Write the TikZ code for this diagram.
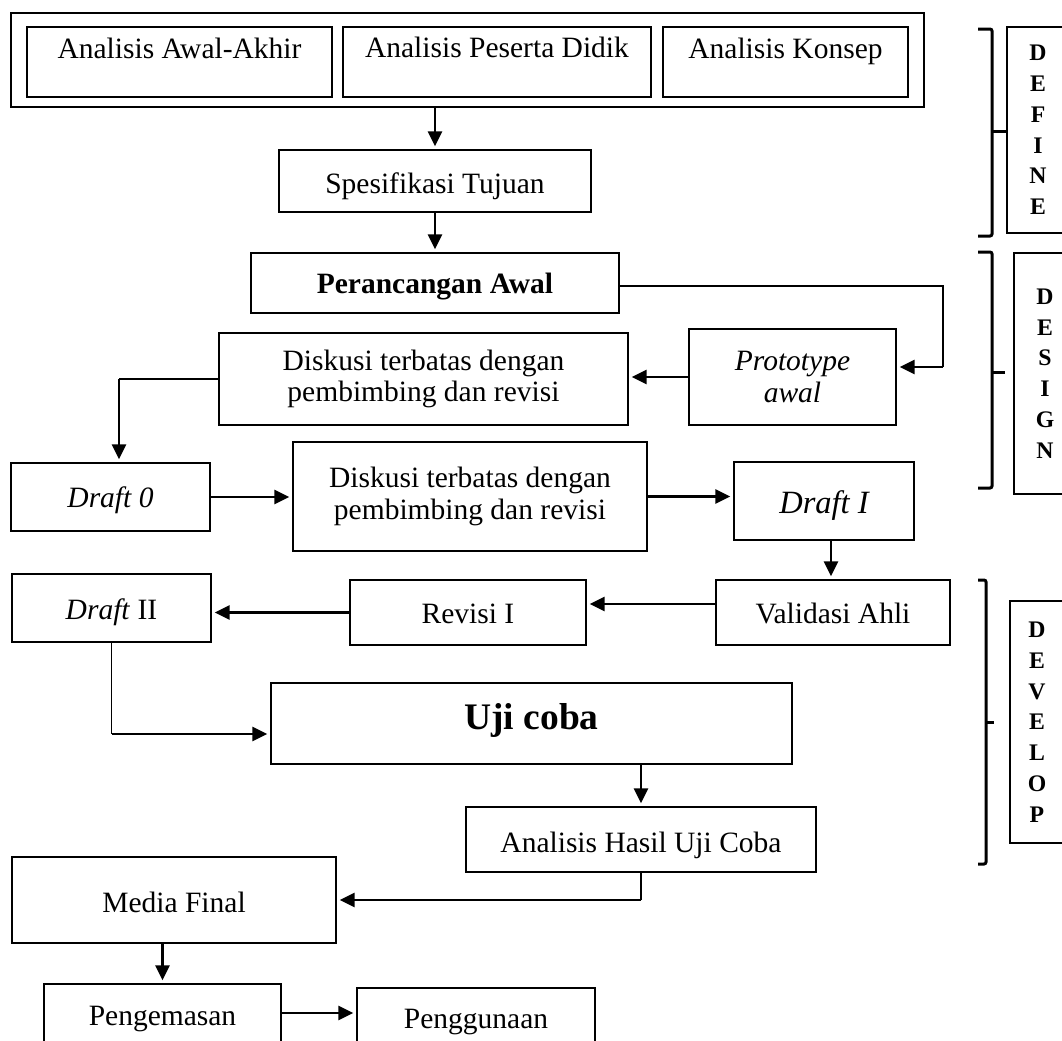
\documentclass[tikz,border=0pt]{standalone}
\usepackage{fontspec}
\setmainfont{Liberation Serif}
\usetikzlibrary{arrows.meta}

\newcommand\flowfont{\fontsize{11.8}{12.6}\selectfont}

\tikzset{
  box/.style={draw, line width=0.9pt, inner sep=0pt, align=center, font=\flowfont},
  phase/.style={draw, line width=0.85pt, inner sep=0pt, align=center,
    font=\fontsize{9.5}{12.3}\selectfont\bfseries},
  arr/.style={line width=1.1pt, -{Triangle[length=6pt,width=5.6pt]}, shorten >=1pt},
  link/.style={line width=0.5pt},
  brk/.style={line width=1.2pt, rounded corners=0.8pt},
}

% box given by its corners (x1,y1)-(x2,y2), text centred
\newcommand\flowbox[7][]{%
  \node[box,#1,minimum width={(#5-#3)*0.4pt},minimum height={(#6-#4)*0.4pt}]
    (#2) at ({(#3+#5)/2},{(#4+#6)/2}) {#7};}

% box given by its corners, with the text baseline at height #7
\newcommand\basebox[8][]{%
  \pgfmathsetmacro\fbshift{((#4+#6)/2-#7)*0.8}%
  \pgfmathsetmacro\fbtd{max(0,\fbshift)}%
  \pgfmathsetmacro\fbth{max(0,-\fbshift)}%
  \node[box,#1,text height=\fbth pt,text depth=\fbtd pt,
    minimum width={(#5-#3)*0.4pt},minimum height={(#6-#4)*0.4pt}]
    (#2) at ({(#3+#5)/2},{(#4+#6)/2}) {#8};}

\begin{document}
\begin{tikzpicture}[x=0.4pt,y=-0.4pt]
\useasboundingbox (0,0) rectangle (1062,1041);
\clip (0,0) rectangle (1062,1041);

% ---- define: front-end analyses ----
\flowbox{outer}{11}{13}{924}{107}{}
\basebox{aa}{27}{27}{332}{97}{58}{Analisis Awal-Akhir}
\basebox{ap}{343}{27}{651}{97}{57}{Analisis Peserta Didik}
\basebox{ak}{663}{27}{908}{97}{58}{Analisis Konsep}
\basebox{spec}{279}{150}{591}{212}{193}{Spesifikasi Tujuan}

% ---- design ----
\basebox[font=\flowfont\bfseries]{pa}{251}{253}{619}{313}{293}{Perancangan Awal}
\flowbox[font=\flowfont\itshape]{proto}{689}{329}{896}{425}{Prototype\\awal}
\flowbox{d1}{219}{333}{628}{425}{Diskusi terbatas dengan\\pembimbing dan revisi}
\basebox[font=\flowfont\itshape]{d0}{11}{463}{210}{531}{507}{Draft 0}
\flowbox{d2}{293}{442}{647}{551}{Diskusi terbatas dengan\\pembimbing dan revisi}
\basebox[font=\fontsize{13}{15}\selectfont\itshape]{di}{734}{462}{914}{540}{513}{Draft I}

% ---- develop ----
\basebox{va}{716}{580}{950}{645}{623}{Validasi Ahli}
\basebox{re}{350}{580}{586}{645}{623}{Revisi I}
\basebox{dii}{12}{574}{211}{642}{619}{\textit{Draft} II}
\basebox[font=\fontsize{15}{18}\selectfont\bfseries]{uji}{271}{683}{792}{764}{729}{Uji coba}
\basebox{ah}{466}{807}{816}{872}{852}{Analisis Hasil Uji Coba}
\basebox{mf}{12}{857}{336}{943}{912}{Media Final}
\basebox{pg}{44}{984}{281}{1042}{1025}{Pengemasan}
\basebox{pu}{357}{988}{595}{1050}{1028}{Penggunaan}

% ---- phase labels ----
\flowbox[phase]{pdef}{1007}{27}{1069}{233}{D\\E\\F\\I\\N\\E}
\flowbox[phase]{pdes}{1014}{253}{1076}{494}{D\\E\\S\\I\\G\\N}
\flowbox[phase]{pdev}{1010}{601}{1064}{843}{D\\E\\V\\E\\L\\O\\P}

\draw[brk] (978,29) -- (992,29) -- (992,236) -- (978,236);
\draw[brk] (992,131) -- (1006,131);
\draw[brk] (978,252) -- (992,252) -- (992,488) -- (978,488);
\draw[brk] (992,372) -- (1005,372);
\draw[brk] (978,580) -- (986,580) -- (986,864) -- (978,864);
\draw[brk] (986,722) -- (994,722);

% ---- connectors ----
\draw[arr] (spec.north |- outer.south) -- (spec.north);
\draw[arr] (spec.south) -- (pa.north);

\coordinate (k1) at (943,367);
\draw[link] ([yshift=-1.2pt]pa.east) -| (k1);
\draw[arr] (k1) -- (k1 -| proto.east);
\draw[arr] (proto.west) -- (proto.west -| d1.east);

\coordinate (k2) at (119,379);
\draw[link] (d1.west) -- (k2);
\draw[arr] (k2) -- (k2 |- d0.north);
\draw[arr] (d0.east) -- (d0.east -| d2.west);
\draw[arr] (d2.east) -- (d2.east -| di.west);
\draw[arr] ([xshift=2.8pt]di.south) -- ([xshift=2.8pt]di.south |- va.north);
\draw[arr] ([yshift=3.4pt]va.west) -- ([yshift=3.4pt]va.west -| re.east);
\draw[arr] (re.west) -- (re.west -| dii.east);

\coordinate (k3) at (111.5,734);
\draw[link] (dii.south) -- (k3);
\draw[arr] (k3) -- (k3 -| uji.west);
\draw[arr] (ah.north |- uji.south) -- (ah.north);

\coordinate (k4) at (ah.south |- mf.east);
\draw[link] (ah.south) -- (k4);
\draw[arr] (k4) -- (mf.east);
\draw[arr] (pg.north |- mf.south) -- (pg.north);
\draw[arr] (pg.east) -- (pg.east -| pu.west);
\end{tikzpicture}
\end{document}
